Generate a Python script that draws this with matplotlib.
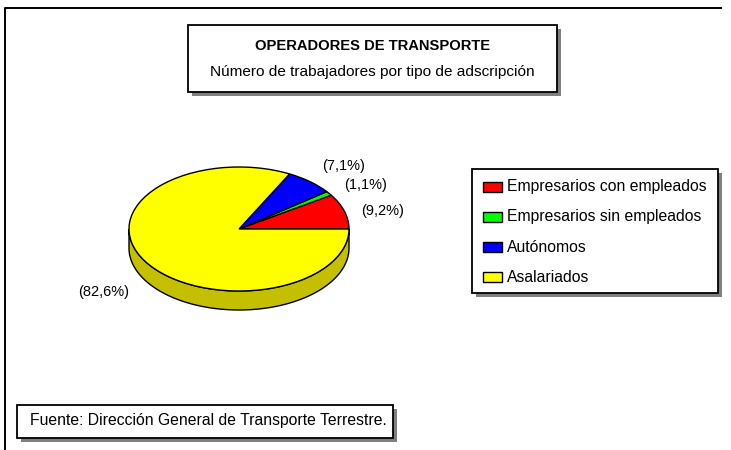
import numpy as np
import matplotlib
matplotlib.use("Agg")
import matplotlib.pyplot as plt
from matplotlib.patches import Rectangle

plt.rcParams['font.family'] = ['Liberation Sans', 'DejaVu Sans']

# Datos: trabajadores por tipo de adscripcion (%)
categorias = ['Empresarios con empleados', 'Empresarios sin empleados',
              'Autónomos', 'Asalariados']
porcentajes = [9.2, 1.1, 7.1, 82.6]
colores = ['#FF0000', '#00FF00', '#0000FF', '#FFFF00']
titulo = 'OPERADORES DE TRANSPORTE'
subtitulo = 'Número de trabajadores por tipo de adscripción'
fuente = 'Fuente: Dirección General de Transporte Terrestre.'

W, H = 731, 450
fig = plt.figure(figsize=(W / 100, H / 100), dpi=100)

# capa de fondo en pixeles (y hacia abajo)
bg = fig.add_axes([0, 0, 1, 1])
bg.set_xlim(0, W)
bg.set_ylim(H, 0)
bg.axis('off')

# marco exterior
bg.plot([5, 5, 722], [H, 8, 8], color='black', lw=1.4, solid_capstyle='butt')


def caja(x0, y0, x1, y1, sombra=4):
    bg.add_patch(Rectangle((x0 + sombra, y0 + sombra), x1 - x0, y1 - y0,
                           facecolor='#808080', edgecolor='none', zorder=2))
    bg.add_patch(Rectangle((x0, y0), x1 - x0, y1 - y0, facecolor='white',
                           edgecolor='black', lw=1.3, zorder=3))


# titulo
caja(188, 25, 557, 92)
bg.text(373, 46, titulo, ha='center', va='center', fontsize=10.6,
        fontweight='bold', zorder=4)
bg.text(372, 72, subtitulo, ha='center', va='center', fontsize=11.1, zorder=4)

# fuente
caja(17, 405, 393, 438)
bg.text(30, 421, fuente, ha='left', va='center', fontsize=11.3, zorder=4)

# leyenda
caja(472, 169, 718, 293)
filas = [187, 217, 247, 277]
for cat, col, yy in zip(categorias, colores, filas):
    bg.add_patch(Rectangle((483, yy - 5), 19, 10, facecolor=col,
                           edgecolor='black', lw=1, zorder=4))
    bg.text(507, yy, cat, ha='left', va='center', fontsize=11.3, zorder=4)

# etiquetas de porcentaje
pos_etiquetas = [(383, 211), (366, 185), (344, 166), (104, 292)]
for v, (xx, yy) in zip(porcentajes, pos_etiquetas):
    bg.text(xx, yy, '(' + f'{v:.1f}'.replace('.', ',') + '%)',
            ha='center', va='center', fontsize=10.5, zorder=4)

# tarta en perspectiva: centro (239, 229), radios 110 x 62 px
rx, ry = 110.0, 62.0
cx, cy = 239, H - 229
x0l, x1l, y0l, y1l = -1.3, 1.3, -1.6, 1.3
axp = fig.add_axes([(cx + x0l * rx) / W, (cy + y0l * ry) / H,
                    (x1l - x0l) * rx / W, (y1l - y0l) * ry / H])
wedges, _ = axp.pie(porcentajes, colors=colores, startangle=0,
                    counterclock=True,
                    wedgeprops=dict(edgecolor='black', linewidth=1.0))
axp.set_aspect('auto')
axp.set_xlim(x0l, x1l)
axp.set_ylim(y0l, y1l)
axp.axis('off')

# lateral (grosor) de la tarta
prof = 19 / ry
t = np.linspace(np.pi, 2 * np.pi, 200)
xs = np.concatenate([np.cos(t), np.cos(t[::-1])])
ys = np.concatenate([np.sin(t), np.sin(t[::-1]) - prof])
axp.fill(xs, ys, facecolor='#C4C000', edgecolor='black', lw=1.0, zorder=0)
for w in wedges:
    w.set_zorder(2)

fig.savefig('out.png', dpi=100)
